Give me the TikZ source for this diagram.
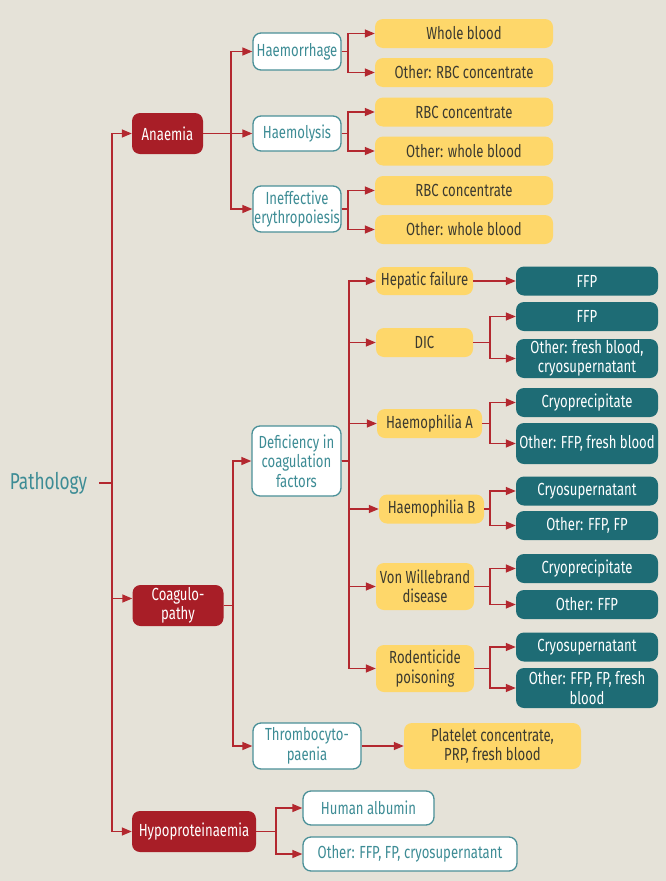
\documentclass[tikz,border=0pt]{standalone}
\usepackage{fontspec}
\setmainfont[FakeStretch=0.75]{Fira Sans}
\usetikzlibrary{arrows.meta,calc}
\definecolor{bg}{HTML}{E5E2D8}
\definecolor{dred}{HTML}{A81E27}
\definecolor{lred}{HTML}{B3282F}
\definecolor{tealf}{HTML}{1E6C75}
\definecolor{tealb}{HTML}{4A9098}
\definecolor{tealt}{HTML}{3D8C95}
\definecolor{yel}{HTML}{FED76A}
\definecolor{ytext}{HTML}{3B3A30}
\tikzset{
  box/.style={rounded corners=8pt, inner sep=1pt, align=center, font=\fontsize{17.5}{19.5}\selectfont},
  redbox/.style={box, fill=dred, text=white},
  whitebox/.style={box, fill=white, draw=tealb, line width=1.3pt, text=tealt},
  yelbox/.style={box, fill=yel, text=ytext},
  tealbox/.style={box, fill=tealf, text=white},
  conn/.style={draw=lred, line width=1.4pt},
  arr/.style={conn, -{Triangle[length=10pt,width=8pt]}},
}
\begin{document}
\begin{tikzpicture}[x=1pt,y=-1pt]
\useasboundingbox (0,0) rectangle (666,881);
\fill[bg] (0,0) rectangle (666,881);
% junction x coordinates
\coordinate (xM) at (112,0);
\coordinate (xA) at (231,0);
\coordinate (xC) at (233,0);
\coordinate (xD) at (349,0);
\coordinate (xH) at (276,0);
\coordinate (xY) at (348,0);
\coordinate (xT) at (490,0);
% root
\node[text=tealt, font=\fontsize{23}{26}\selectfont, inner sep=2pt] (patho) at (48.5,483) {Pathology};
% level 1
\node[redbox, minimum width=71pt, minimum height=41pt] (anaemia) at (167.5,133.5) {Anaemia};
\node[redbox, minimum width=91pt, minimum height=41pt] (coag) at (178,605.5) {Coagulo-\\pathy};
\node[redbox, minimum width=124pt, minimum height=41pt] (hypo) at (194,831.5) {Hypoproteinaemia};
% anaemia children
\node[whitebox, minimum width=88pt, minimum height=37pt] (haemor) at (297,51.5) {Haemorrhage};
\node[whitebox, minimum width=88pt, minimum height=35pt] (haemol) at (297,133.5) {Haemolysis};
\node[whitebox, minimum width=88pt, minimum height=46pt] (ineff) at (297,209) {Ineffective\\erythropoiesis};
\foreach \n/\y/\t in {wb/33.5/Whole blood, orbc/72.5/Other: RBC concentrate, rbca/112/RBC concentrate, owba/151/Other: whole blood, rbcb/190.5/RBC concentrate, owbb/229.5/Other: whole blood}
  \node[yelbox, minimum width=178pt, minimum height=29pt] (\n) at (464,\y) {\t};
% coagulopathy children
\node[whitebox, minimum width=89pt, minimum height=70pt] (defic) at (296.5,461) {Deficiency in\\coagulation\\factors};
\node[whitebox, minimum width=108pt, minimum height=46pt] (thromb) at (307,746) {Thrombocyto-\\paenia};
\node[yelbox, minimum width=177pt, minimum height=46pt] (platelet) at (492.5,746) {Platelet concentrate,\\PRP, fresh blood};
\node[yelbox, minimum width=97pt, minimum height=28pt] (hepatic) at (424.5,281) {Hepatic failure};
\node[yelbox, minimum width=97pt, minimum height=29pt] (dic) at (424.5,342.5) {DIC};
\node[yelbox, minimum width=105pt, minimum height=29pt] (haemA) at (429.5,423.5) {Haemophilia A};
\node[yelbox, minimum width=105pt, minimum height=29pt] (haemB) at (431.5,509) {Haemophilia B};
\node[yelbox, minimum width=98pt, minimum height=47pt] (vwd) at (425,586.5) {Von Willebrand\\disease};
\node[yelbox, minimum width=98pt, minimum height=47pt] (rodent) at (425,668.5) {Rodenticide\\poisoning};
\node[tealbox, minimum width=142pt, minimum height=29pt] (ffpa) at (587,281) {FFP};
\node[tealbox, minimum width=142pt, minimum height=29pt] (ffpb) at (587,316.5) {FFP};
\node[tealbox, minimum width=142pt, minimum height=39pt] (ofresh) at (587,358.5) {Other: fresh blood,\\cryosupernatant};
\node[tealbox, minimum width=142pt, minimum height=29pt] (cryoa) at (587,402.5) {Cryoprecipitate};
\node[tealbox, minimum width=142pt, minimum height=41pt] (offpfresh) at (587,443.5) {Other: FFP, fresh blood};
\node[tealbox, minimum width=142pt, minimum height=29pt] (cryosa) at (587,491) {Cryosupernatant};
\node[tealbox, minimum width=142pt, minimum height=29pt] (offpfp) at (587,525.5) {Other: FFP, FP};
\node[tealbox, minimum width=142pt, minimum height=29pt] (cryob) at (587,568.5) {Cryoprecipitate};
\node[tealbox, minimum width=142pt, minimum height=29pt] (offp) at (587,604.5) {Other: FFP};
\node[tealbox, minimum width=142pt, minimum height=29pt] (cryosb) at (587,647) {Cryosupernatant};
\node[tealbox, minimum width=142pt, minimum height=40pt] (offpfpfresh) at (587,688) {Other: FFP, FP, fresh\\blood};
% hypoproteinaemia children
\node[whitebox, minimum width=131pt, minimum height=34pt] (alb) at (368.5,808) {Human albumin};
\node[whitebox, minimum width=214pt, minimum height=34pt] (oalb) at (410,854) {Other: FFP, FP, cryosupernatant};
% connectors: root
\draw[conn, shorten <=10pt] (patho.east) -- (patho.east -| xM);
\draw[arr] (patho.east -| xM) |- (anaemia.west);
\draw[arr] (patho.east -| xM) |- ([yshift=7pt]coag.west);
\draw[arr] (patho.east -| xM) |- (hypo.west);
% anaemia
\foreach \t in {haemor,haemol,ineff}
  \draw[arr] (anaemia.east) -- (anaemia.east -| xA) |- (\t.west);
\foreach \s/\a/\b in {haemor/wb/orbc, haemol/rbca/owba, ineff/rbcb/owbb}{
  \draw[arr] (\s.east) -- (\s.east -| xY) |- (\a.west);
  \draw[arr] (\s.east) -- (\s.east -| xY) |- (\b.west);
}
% coagulopathy
\foreach \t in {defic,thromb}
  \draw[arr] (coag.east) -- (coag.east -| xC) |- (\t.west);
\draw[arr] (thromb.east) -- (platelet.west);
\foreach \t in {hepatic,dic,haemA,haemB,vwd,rodent}
  \draw[arr] (defic.east) -- (defic.east -| xD) |- (\t.west);
\draw[arr] (hepatic.east) -- (ffpa.west);
\foreach \s/\a/\b in {dic/ffpb/ofresh, haemA/cryoa/offpfresh, haemB/cryosa/offpfp, vwd/cryob/offp, rodent/cryosb/offpfpfresh}{
  \draw[arr] (\s.east) -- (\s.east -| xT) |- (\a.west);
  \draw[arr] (\s.east) -- (\s.east -| xT) |- (\b.west);
}
% hypoproteinaemia
\foreach \t in {alb,oalb}
  \draw[arr] (hypo.east) -- (hypo.east -| xH) |- (\t.west);
\end{tikzpicture}
\end{document}
